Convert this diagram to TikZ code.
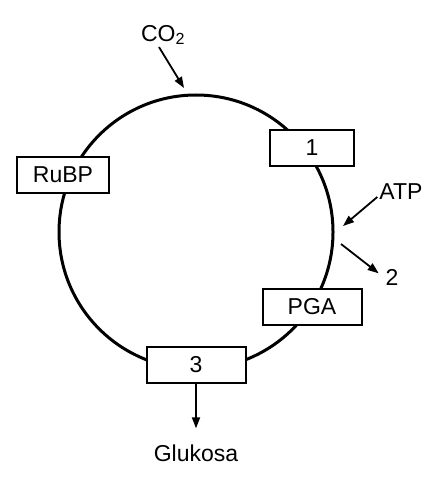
\documentclass[tikz,border=0pt]{standalone}
\usepackage{fontspec}
\setmainfont{Liberation Sans}
\usetikzlibrary{arrows.meta}

\tikzset{
  stage/.style={draw, line width=2pt, fill=white, minimum height=36pt, inner sep=0pt, font=\fontsize{23}{27}\selectfont},
  lbl/.style={inner sep=2pt, font=\fontsize{23}{27}\selectfont},
  flow/.style={line width=1.8pt, -{Triangle[length=11pt,width=8pt]}}
}

\begin{document}
\begin{tikzpicture}[x=1pt,y=-1pt]
\useasboundingbox (0,0) rectangle (439,486);
% cycle
\coordinate (c) at (196,232);
\draw[line width=3pt] (c) circle (137pt);
\node[stage, minimum width=92pt] (rubp) at (63,175) {RuBP};
\node[stage, minimum width=84pt] (s1) at (312,148) {1};
\node[stage, minimum width=99pt] (pga) at (312,307) {PGA};
\node[stage, minimum width=99pt] (s3) at (196,365) {3};
% inputs and outputs
\node[lbl] (co2) at (163,35) {CO\textsubscript{2}};
\node[lbl] (atp) at (401,192) {ATP};
\node[lbl] (two) at (392,277) {2};
\node[lbl] (glu) at (196,453) {Glukosa};
\coordinate (co2in) at (184,88);
\coordinate (atpin) at (343,226);
\coordinate (out) at (341,244);
\draw[flow] ([xshift=-4pt]co2.south) -- (co2in);
\draw[flow] ([yshift=-5pt]atp.west) -- (atpin);
\draw[flow, shorten >=6pt] (out) -- (two.west);
\draw[flow, shorten >=14pt] (s3) -- (glu);
\end{tikzpicture}
\end{document}
